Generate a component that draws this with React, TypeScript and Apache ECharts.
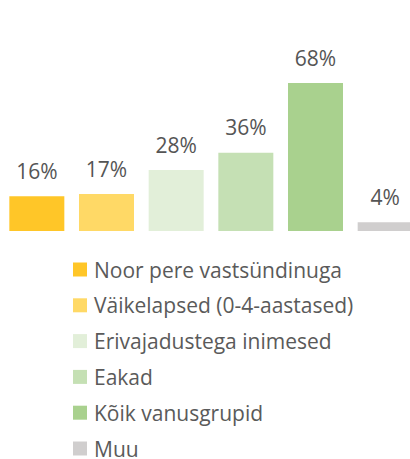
import React, { useEffect, useRef } from "react";
import * as echarts from "echarts";

const categories = [
  "Noor pere vastsündinuga",
  "Väikelapsed (0-4-aastased)",
  "Erivajadustega inimesed",
  "Eakad",
  "Kõik vanusgrupid",
  "Muu",
];
const values = [16, 17, 28, 36, 68, 4];
const colors = ["#FFC628", "#FFD966", "#E2EFD9", "#C5E0B4", "#A9D18E", "#D0CECE"];

export default function App() {
  const ref = useRef<HTMLDivElement>(null);
  useEffect(() => {
    if (!ref.current) return;
    const chart = echarts.init(ref.current, null, { renderer: "svg" });
    const series = categories.map((name, i) => ({
      name,
      type: "bar",
      stack: "all",
      barWidth: 55,
      itemStyle: { color: colors[i] },
      label: {
        show: true,
        position: "top",
        distance: 15,
        formatter: "{c}%",
        color: "#555555",
        fontSize: 21,
        fontFamily: "Open Sans",
      },
      data: categories.map((_, j) => (j === i ? values[i] : null)),
    }));
    chart.setOption({
      animation: false,
      grid: { left: 2, right: 0, top: 13.4, bottom: 228 },
      xAxis: {
        type: "category",
        data: categories,
        show: false,
      },
      yAxis: { type: "value", min: 0, max: 100, show: false },
      legend: {
        orient: "vertical",
        left: 73,
        top: 259,
        height: 250,
        padding: 0,
        icon: "rect",
        itemWidth: 14,
        itemHeight: 14,
        itemGap: 14.8,
        textStyle: {
          fontSize: 21,
          lineHeight: 20,
          color: "#5a5a5a",
          fontFamily: "Open Sans",
          padding: [0, 0, 0, 2],
        },
        data: categories,
      },
      series,
    });
    return () => chart.dispose();
  }, []);
  return (
    <div
      ref={ref}
      style={{ position: "fixed", left: 0, top: 0, width: 420, height: 459, background: "#fff" }}
    />
  );
}
